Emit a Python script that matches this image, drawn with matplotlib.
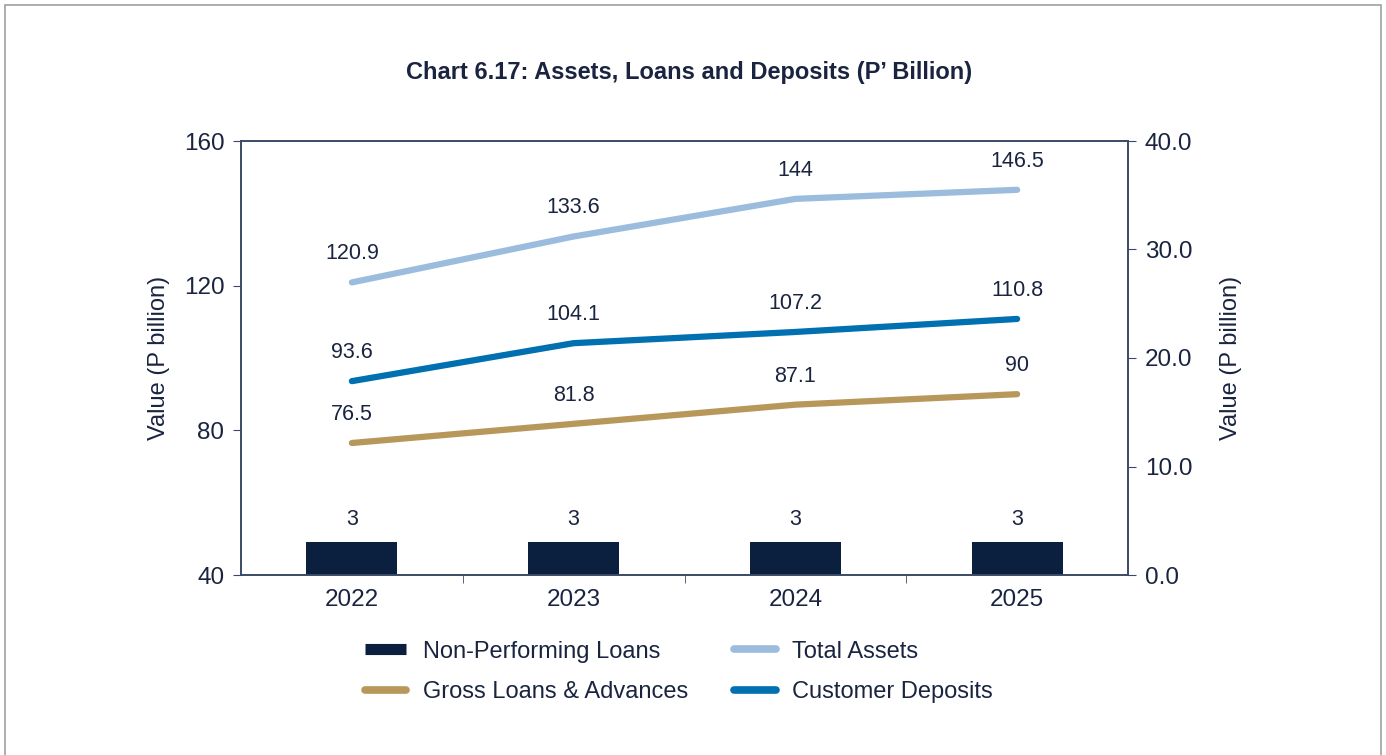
import matplotlib.pyplot as plt
from matplotlib.lines import Line2D
from matplotlib.patches import Rectangle
import numpy as np

plt.rcParams['font.family'] = ['Liberation Sans', 'DejaVu Sans']

years = ['2022', '2023', '2024', '2025']
npl = [3, 3, 3, 3]
total_assets = [120.9, 133.6, 144, 146.5]
customer_deposits = [93.6, 104.1, 107.2, 110.8]
gross_loans = [76.5, 81.8, 87.1, 90]

navy = '#0B1F3F'
light_blue = '#9BBCDD'
tan = '#B8975A'
blue = '#0070B0'
text_col = '#1A2440'
spine_col = '#3A4A66'

fig = plt.figure(figsize=(13.86, 7.55), dpi=100)
ax = fig.add_axes([241 / 1386, 1 - 575 / 755, 887 / 1386, 434 / 755])
ax2 = ax.twinx()

x = np.arange(len(years))

# bars on the right axis
ax2.bar(x, npl, width=0.41, color=navy, zorder=2)
for xi, v in zip(x, npl):
    ax2.annotate(f'{v}', (xi, v), xytext=(0, 9), textcoords='offset points',
                 ha='center', va='bottom', fontsize=15.5, color=text_col)

series = [
    (total_assets, light_blue, 'Total Assets'),
    (customer_deposits, blue, 'Customer Deposits'),
    (gross_loans, tan, 'Gross Loans & Advances'),
]
for vals, col, name in series:
    ax.plot(x, vals, color=col, lw=4.5, solid_capstyle='round', zorder=3)
    for xi, v in zip(x, vals):
        lab = f'{v:g}'
        ax.annotate(lab, (xi, v), xytext=(0, 13), textcoords='offset points',
                    ha='center', va='bottom', fontsize=15.5, color=text_col)

ax.set_zorder(ax2.get_zorder() + 1)
ax.patch.set_visible(False)

ax.set_xlim(-0.5, 3.5)
ax.set_ylim(40, 160)
ax.set_yticks([40, 80, 120, 160])
ax2.set_ylim(0, 40)
ax2.set_yticks([0, 10, 20, 30, 40])
ax2.set_yticklabels([f'{t:.1f}' for t in [0, 10, 20, 30, 40]])

ax.set_xticks(x)
ax.set_xticklabels(years)
ax.set_xticks([0.5, 1.5, 2.5], minor=True)
ax.tick_params(axis='x', which='major', length=0, labelsize=17.5, colors=text_col, pad=10)
ax.tick_params(axis='x', which='minor', length=6, direction='out', color=spine_col)
ax.tick_params(axis='y', length=6, direction='out', labelsize=17.5, colors=text_col, color=spine_col, pad=6)
ax2.tick_params(axis='y', length=6, direction='out', labelsize=17.5, colors=text_col, color=spine_col, pad=6)

for a in (ax, ax2):
    for s in a.spines.values():
        s.set_color(spine_col)
        s.set_linewidth(1.2)

ax.set_ylabel('Value (P billion)', fontsize=17, color=text_col, labelpad=10)
ax2.set_ylabel('Value (P billion)', fontsize=17, color=text_col, labelpad=20)

fig.text(0.4975, 1 - 72 / 755, 'Chart 6.17: Assets, Loans and Deposits (P\u2019 Billion)',
         ha='center', va='center', fontsize=17, fontweight='bold', color=text_col)

handles = [
    Line2D([], [], color=navy, lw=8, solid_capstyle='butt'),
    Line2D([], [], color=tan, lw=5.5, solid_capstyle='round'),
    Line2D([], [], color=light_blue, lw=5.5, solid_capstyle='round'),
    Line2D([], [], color=blue, lw=5.5, solid_capstyle='round'),
]
labels = ['Non-Performing Loans', 'Gross Loans & Advances', 'Total Assets', 'Customer Deposits']
fig.legend(handles, labels, ncol=2, loc='center', bbox_to_anchor=(679 / 1386, 1 - 672 / 755),
           frameon=False, fontsize=17, labelcolor=text_col, handlelength=1.75,
           columnspacing=1.95, labelspacing=0.8, handletextpad=0.7)

fig.patches.append(Rectangle((5 / 1386, -0.01), 1376 / 1386, 1.01 - 5 / 755,
                             transform=fig.transFigure, fill=False, edgecolor='#A0A0A0', lw=1.2))

fig.savefig('out.png', dpi=100)
